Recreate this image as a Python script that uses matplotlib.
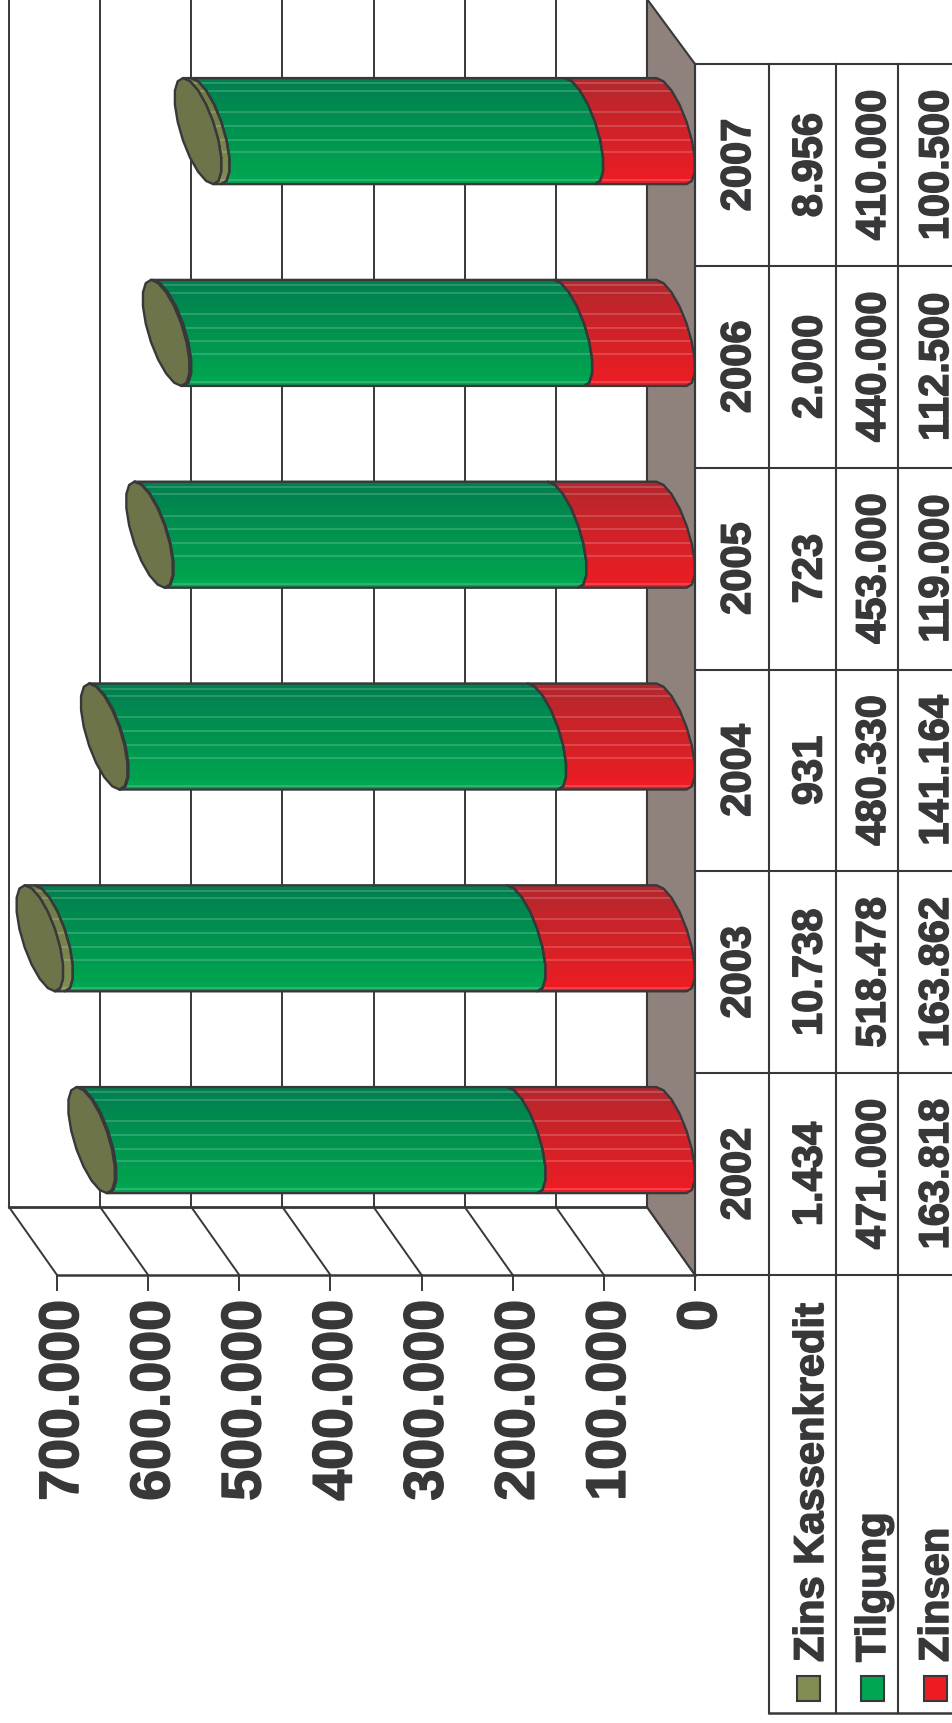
import numpy as np
import matplotlib
matplotlib.use("Agg")
import matplotlib.pyplot as plt
import matplotlib.patheffects as pe
from matplotlib.colors import LinearSegmentedColormap
from matplotlib.patches import Polygon

plt.rcParams['font.family'] = ['Liberation Sans', 'DejaVu Sans']

years = ['2002', '2003', '2004', '2005', '2006', '2007']
zinsen = [163818, 163862, 141164, 119000, 112500, 100500]
tilgung = [471000, 518478, 480330, 453000, 440000, 410000]
kassenkredit = [1434, 10738, 931, 723, 2000, 8956]
zinsen_txt = ['163.818', '163.862', '141.164', '119.000', '112.500', '100.500']
tilgung_txt = ['471.000', '518.478', '480.330', '453.000', '440.000', '410.000']
kassen_txt = ['1.434', '10.738', '931', '723', '2.000', '8.956']
ticks = [0, 100000, 200000, 300000, 400000, 500000, 600000, 700000]
tick_txt = ['0', '100.000', '200.000', '300.000', '400.000', '500.000', '600.000', '700.000']

DARK = '#38383a'
K = 638 / 700000      # pixels per value
X0 = 695              # pixel column of value 0
ROW_H = 201.8
ROW_BOTTOM = 1276
TOP = 65
DEPTH_X = 48
DEPTH_Y = 68
HEAVY = [pe.withStroke(linewidth=1.1, foreground=DARK)]


def dv(px):
    # pixel width -> value units
    return px / K


def tx(px):
    # pixel column -> value coordinate
    return dv(X0 - px)


fig = plt.figure(figsize=(9.52, 17.24), dpi=100)
ax = fig.add_axes([0, 0, 1, 1])
XLIM = (dv(X0), dv(X0 - 952))
YLIM = (1724, 0)
ax.axis('off')

# floor and back wall
back_y = ROW_BOTTOM - DEPTH_Y
ax.add_patch(Polygon([(dv(DEPTH_X), 0), (0, TOP), (0, ROW_BOTTOM), (dv(DEPTH_X), back_y)],
                     closed=True, fc='#8f827c', ec=DARK, lw=1.5, zorder=1))
for t in ticks:
    bx = t + dv(DEPTH_X)
    ax.plot([bx, bx], [0, back_y], color=DARK, lw=1.4, zorder=0.5)
    ax.plot([bx, t], [back_y, ROW_BOTTOM], color=DARK, lw=1.4, zorder=0.5)
    ax.plot([t, t], [ROW_BOTTOM, ROW_BOTTOM + 15], color=DARK, lw=1.4, zorder=3)
ax.plot([ticks[-1] + dv(DEPTH_X), dv(DEPTH_X)], [back_y, back_y], color=DARK, lw=2, zorder=0.5)

# table grid
for px, y1 in [(695, ROW_BOTTOM), (769, 1714), (835.5, 1714), (898, 1714)]:
    ax.plot([tx(px), tx(px)], [TOP, y1], color=DARK, lw=1.5, zorder=3)
for i in range(len(years) + 1):
    yy = ROW_BOTTOM - i * ROW_H
    ax.plot([tx(695), tx(952)], [yy, yy], color=DARK, lw=1.5, zorder=3)
ax.plot([ticks[-1], 0], [ROW_BOTTOM, ROW_BOTTOM], color=DARK, lw=1.8, zorder=3)
ax.plot([tx(769), tx(952)], [1714, 1714], color=DARK, lw=1.8, zorder=3)

# stacked cylinders
A = 23.5
B = 53
PHI = 40
front = np.radians(np.arange(-130, 51, 20))
back = np.radians(np.arange(50, 231, 20))
streaks = [0.05, 0.12, 0.32, 0.45, 0.58, 0.70, 0.965]
series = [
    (zinsen, '#b5272d', '#ed1c24'),
    (tilgung, '#00804e', '#00a651'),
    (kassenkredit, '#6f7a45', '#7f8c52'),
]


def arc(v, cy, th):
    xs = v + dv(A) * (1 - np.cos(th))
    ys = cy + B * np.sin(th + np.radians(PHI))
    return np.column_stack([xs, ys])


for i, yr in enumerate(years):
    cy = ROW_BOTTOM - (i + 0.5) * ROW_H - 34
    base = 0
    for vals, c_top, c_bot in series:
        end = base + vals[i]
        pts = np.vstack([arc(base, cy, front), arc(end, cy, front)[::-1]])
        ax.add_patch(Polygon(pts, closed=True, fc='none', ec=DARK, lw=1.7, zorder=5, joinstyle='round'))
        cmap = LinearSegmentedColormap.from_list('b', [c_top, c_bot], N=12)
        grad = np.linspace(0, 1, 12).reshape(-1, 1)
        im = ax.imshow(grad, cmap=cmap, aspect='auto', interpolation='nearest', zorder=4,
                       extent=[end + dv(A * 2), base - dv(A), cy + B, cy - B])
        clip = Polygon(pts, closed=True, transform=ax.transData)
        im.set_clip_path(clip)
        for s in streaks:
            ln, = ax.plot([end + dv(A * 2), base - dv(A)], [cy - B + s * 2 * B] * 2,
                          color='white', alpha=0.2, lw=1.2, zorder=4.5)
            ln.set_clip_path(clip)
        base = end
    # end cap
    ax.add_patch(Polygon(np.vstack([arc(base, cy, front), arc(base, cy, back)]), closed=True,
                         fc='#6d7449', ec=DARK, lw=1.7, zorder=6, joinstyle='round'))

# tick labels
for t, s in zip(ticks, tick_txt):
    ax.text(t - dv(21), 1301, s, rotation=90, rotation_mode='anchor', ha='right', va='baseline',
            fontsize=40, fontweight='bold', color=DARK, zorder=7, path_effects=HEAVY)

# table text
for i, yr in enumerate(years):
    yc = ROW_BOTTOM - (i + 0.5) * ROW_H
    for px, s in [(750, yr), (821.5, kassen_txt[i]), (885, tilgung_txt[i]), (948, zinsen_txt[i])]:
        ax.text(tx(px), yc, s, rotation=90, rotation_mode='anchor', ha='center', va='baseline',
                fontsize=30, fontweight='bold', color=DARK, zorder=7, path_effects=HEAVY)

# legend column
legend = [('Zins Kassenkredit', 823, 797, '#7f8c52'), ('Tilgung', 885, 861, '#00a651'), ('Zinsen', 948, 923.5, '#ed1c24')]
for name, px, sx, col in legend:
    ax.text(tx(px), 1663, name, rotation=90, rotation_mode='anchor', ha='left', va='baseline',
            fontsize=30, fontweight='bold', color=DARK, zorder=7, path_effects=HEAVY)
    ax.add_patch(Polygon([(tx(sx), 1677), (tx(sx + 23), 1677), (tx(sx + 23), 1702.5), (tx(sx), 1702.5)],
                         closed=True, fc=col, ec=DARK, lw=1.5, zorder=7))

ax.set_xlim(*XLIM)
ax.set_ylim(*YLIM)
fig.savefig('out.png', dpi=100, facecolor='white')
